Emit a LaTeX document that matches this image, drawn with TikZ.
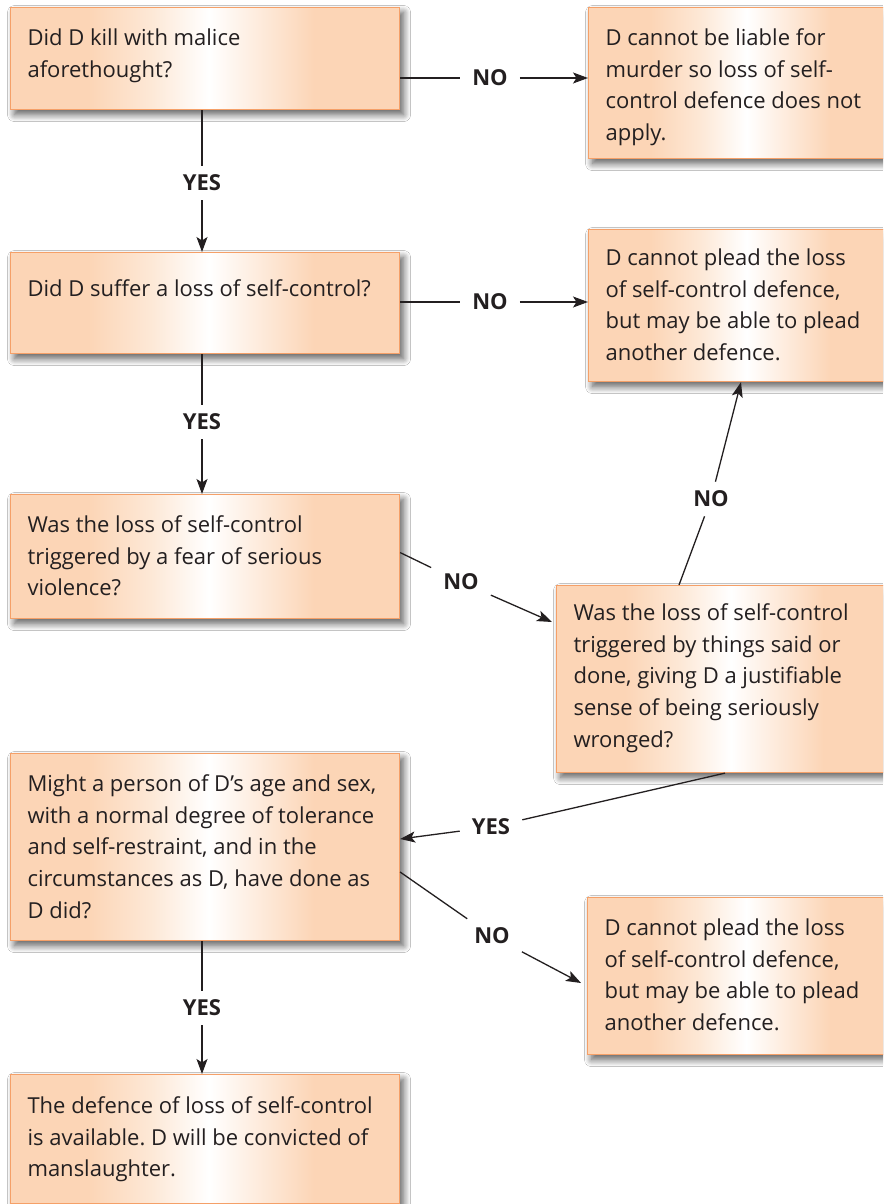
\documentclass[tikz,border=0pt]{standalone}
\usepackage{fontspec}
\setmainfont{Open Sans}
\usetikzlibrary{arrows.meta,calc,shadows.blur}

\definecolor{peach}{RGB}{252,213,182}
\definecolor{peachmid}{RGB}{253,232,214}
\definecolor{boxedge}{RGB}{245,160,104}
\definecolor{ink}{RGB}{35,31,32}

% peach at both sides, fading to white a little right of centre
\pgfdeclarehorizontalshading{peachfade}{100bp}{%
  color(0bp)=(peach); color(25bp)=(peach); color(35bp)=(peach);
  color(43bp)=(peachmid); color(50.5bp)=(white); color(64bp)=(peach);
  color(100bp)=(peach)}

\newcommand\bodyfont{\fontsize{22}{31.7}\selectfont\frenchspacing}
\newcommand\labfont{\fontsize{22}{26}\selectfont\bfseries}
% one text row of a box, with a fixed strut so rows sit 31.7pt apart
\newcommand\brow[1]{\hbox{\rule[-8.7pt]{0pt}{31.7pt}#1}}
% box body: [top skip]{width}{height}{rows}
\newcommand\boxlines[4][15pt]{\hbox to #2{\vbox to #3{\vskip#1 #4\vfill}\hss}}

\tikzset{
  box/.style={rectangle, draw=boxedge, line width=1.1pt, shade, shading=peachfade,
    inner xsep=17pt, inner ysep=0pt, anchor=north west, font=\bodyfont, text=ink,
    blur shadow={shadow xshift=4pt, shadow yshift=-5pt, shadow blur radius=7pt,
      shadow blur steps=12, shadow opacity=65}},
  lab/.style={font=\labfont, text=ink, inner xsep=12pt, inner ysep=9pt},
  link/.style={line width=1.3pt, draw=ink},
  arr/.style={link, -{Stealth[length=15pt,width=11pt,inset=3.5pt]}}
}

\begin{document}
\begin{tikzpicture}[x=1pt,y=1pt]
\useasboundingbox (0,0) rectangle (883,-1204);
\clip (0,0) rectangle (883,-1204);
\fill[white] (0,0) rectangle (883,-1204);

% question column
\node[box] (b1) at (10,-7) {\boxlines{355pt}{102pt}{\brow{Did D kill with malice}\brow{aforethought?}}};
\node[box] (b3) at (10,-252) {\boxlines[21pt]{355pt}{101pt}{\brow{Did D suffer a loss of self-control?}}};
\node[box] (b5) at (10,-494) {\boxlines{355pt}{124pt}{\brow{Was the loss of self-control}\brow{triggered by a fear of serious}\brow{violence?}}};
\node[box] (b7) at (10,-753) {\boxlines{355pt}{187pt}{\brow{Might a person of D’s age and sex,}\brow{with a normal degree of tolerance}\brow{and self-restraint, and in the}\brow{circumstances as D, have done as}\brow{D did?}}};
\node[box] (b9) at (10,-1074) {\boxlines[16pt]{355pt}{129pt}{\brow{The defence of loss of self-control}\brow{is available. D will be convicted of}\brow{manslaughter.}}};

% outcome column
\node[box] (b2) at (588,-7) {\boxlines{276pt}{151pt}{\brow{D cannot be liable for}\brow{murder so loss of self-}\brow{control defence does not}\brow{apply.}}};
\node[box] (b4) at (588,-229) {\boxlines[13pt]{276pt}{152pt}{\brow{D cannot plead the loss}\brow{of self-control defence,}\brow{but may be able to plead}\brow{another defence.}}};
\node[box] (b6) at (556,-585) {\boxlines[12pt]{308pt}{187pt}{\brow{Was the loss of self-control}\brow{triggered by things said or}\brow{done, giving D a justifiable}\brow{sense of being seriously}\brow{wronged?}}};
\node[box] (b8) at (587,-897) {\boxlines{277pt}{157pt}{\brow{D cannot plead the loss}\brow{of self-control defence,}\brow{but may be able to plead}\brow{another defence.}}};

% answer labels
\node[lab] (l12) at (490,-78) {NO};
\node[lab] (l13) at (202,-183) {YES};
\node[lab] (l34) at (490,-302) {NO};
\node[lab] (l35) at (202,-422) {YES};
\node[lab] (l56) at (461,-582) {NO};
\node[lab] (l64) at (711,-499) {NO};
\node[lab] (l67) at (491,-827) {YES};
\node[lab] (l78) at (492,-936) {NO};
\node[lab] (l79) at (202,-1008) {YES};

% connectors
\draw[link] (b1.east |- l12) -- (l12);
\draw[arr] (l12) -- (b2.west |- l12);
\draw[link] (l13 |- b1.south) -- (l13);
\draw[arr] (l13) -- (l13 |- b3.north);

\draw[link] (b3.east |- l34) -- (l34);
\draw[arr] (l34) -- (b4.west |- l34);
\draw[link] (l35 |- b3.south) -- (l35);
\draw[arr] (l35) -- (l35 |- b5.north);

\draw[link] ($(b5.east)+(0,4)$) -- (l56);
\draw[arr] (l56) -- ($(b6.north west)+(-4,-37)$);
\draw[link] ($(b6.north west)+(123,0)$) -- (l64);
\draw[arr] (l64) -- ($(b4.south west)+(153,0)$);

\draw[link] ($(b6.south west)+(169,0)$) -- (l67);
\draw[arr] (l67) -- ($(b7.north east)+(0,-86)$);
\draw[link] ($(b7.north east)+(0,-119)$) -- (l78);
\draw[arr] (l78) -- ($(b8.north west)+(-6,-86)$);
\draw[link] (l79 |- b7.south) -- (l79);
\draw[arr] (l79) -- (l79 |- b9.north);
\end{tikzpicture}
\end{document}
